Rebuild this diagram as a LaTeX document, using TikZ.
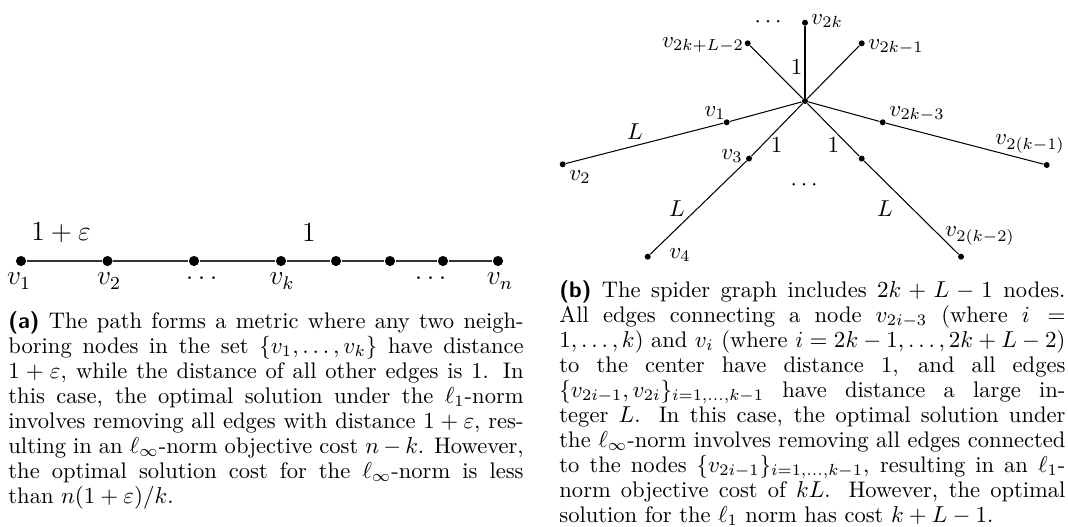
\documentclass[tikz,border=0pt]{standalone}
\usepackage{amsmath,amssymb}
\begin{document}
\begin{tikzpicture}[x=0.4348pt,y=-0.4348pt,
  dotA/.style={circle,fill,inner sep=0pt,minimum size=4.4pt},
  dotB/.style={circle,fill,inner sep=0pt,minimum size=2.6pt},
  edgeA/.style={line width=0.8pt,black!80},
  edgeB/.style={line width=0.45pt},
  labA/.style={font=\fontsize{12}{14}\selectfont,inner sep=0pt},
  labB/.style={font=\fontsize{10}{12}\selectfont,inner sep=0pt},
  capt/.style={font=\fontsize{9.8}{10.87}\selectfont,inner sep=0pt,anchor=base west,align=justify}]
\useasboundingbox (0,0) rectangle (1068,526);
% ---------- (a) path ----------
\node[dotA] (p1) at (21,261) {};
\node[dotA] (p2) at (107.5,261) {};
\node[dotA] (p3) at (194,261) {};
\node[dotA] (p4) at (281,261) {};
\node[dotA] (p5) at (336,261) {};
\node[dotA] (p6) at (390,261) {};
\node[dotA] (p7) at (443,261) {};
\node[dotA] (p8) at (498,261) {};
\draw[edgeA] (p1) -- (p2) -- (p3) -- (p4) -- (p5) -- (p6) -- (p7) -- (p8);
\node[labA] (lp1) at (19,281) {$v_1$};
\node[labA] (lp2) at (109,281) {$v_2$};
\node[labA] (lp3) at (204,278) {$\dots$};
\node[labA] (lp4) at (282,281) {$v_k$};
\node[labA] (lp7) at (433,278) {$\dots$};
\node[labA] (lp8) at (500,281) {$v_n$};
\node[labA] (eps) at (61,233) {$1+\varepsilon$};
\node[labA] (one) at (309,233) {$1$};
% ---------- (b) spider ----------
\node[dotB] (c) at (805,101) {};
\node[dotB] (s2k) at (805,22.7) {};
\node[dotB] (sL) at (747.7,43.3) {};
\node[dotB] (s2km1) at (861.7,43.3) {};
\node[dotB] (s1) at (726.7,122.3) {};
\node[dotB] (s2) at (562.7,164.3) {};
\node[dotB] (s3) at (749,158.6) {};
\node[dotB] (s4) at (647.7,256.7) {};
\node[dotB] (s2km3) at (882.7,122.3) {};
\node[dotB] (s2km1b) at (1046.7,165) {};
\node[dotB] (s2km5) at (861.7,158.6) {};
\node[dotB] (s2km2) at (961,256.7) {};
\draw[edgeB] (c) -- (s2k);
\draw[edgeB] (c) -- (sL);
\draw[edgeB] (c) -- (s2km1);
\draw[edgeB] (c) -- (s1) -- (s2);
\draw[edgeB] (c) -- (s3) -- (s4);
\draw[edgeB] (c) -- (s2km3) -- (s2km1b);
\draw[edgeB] (c) -- (s2km5) -- (s2km2);
\node[labB] (dtop) at (770,22.7) {$\cdots$};
\node[labB] (l2k) at (827,21) {$v_{2k}$};
\node[labB] (lL) at (703,45) {$v_{2k+L-2}$};
\node[labB] (l2km1) at (896,47) {$v_{2k-1}$};
\node[labB] (one1) at (796.7,66.7) {$1$};
\node[labB] (lv1) at (715,113) {$v_1$};
\node[labB] (L1) at (635,132) {$L$};
\node[labB] (lv2) at (580,177) {$v_2$};
\node[labB] (lv3) at (732,156) {$v_3$};
\node[labB] (one2) at (776.6,145.5) {$1$};
\node[labB] (one3) at (833.4,145.5) {$1$};
\node[labB] (dmid) at (806,185) {$\cdots$};
\node[labB] (L2) at (677,208.3) {$L$};
\node[labB] (lv4) at (680,255) {$v_4$};
\node[labB] (l2km3) at (917,114) {$v_{2k-3}$};
\node[labB] (l2km1b) at (1030,144) {$v_{2(k-1)}$};
\node[labB] (L3) at (885,208.3) {$L$};
\node[labB] (l2km2) at (980,236) {$v_{2(k-2)}$};
% ---------- captions ----------
\node[capt,text width=224pt] (capa) at (8,328) {\emergencystretch=3em\hyphenpenalty=10000
{\sffamily\bfseries (a)} The path forms a metric where any two neigh-\linebreak
boring nodes in the set $\{v_1,\ldots,v_k\}$ have distance\linebreak
$1+\varepsilon$, while the distance of all other edges is 1. In\linebreak
this case, the optimal solution under the $\ell_1$-norm\linebreak
involves removing all edges with distance $1+\varepsilon$, res-\linebreak
ulting in an $\ell_\infty$-norm objective cost $n-k$. However,\linebreak
the optimal solution cost for the $\ell_\infty$-norm is less\linebreak
than $n(1+\varepsilon)/k$.};
\node[capt,text width=220pt] (capb) at (559,297) {\emergencystretch=3em\hyphenpenalty=10000
{\sffamily\bfseries (b)} The spider graph includes $2k+L-1$ nodes.\linebreak
All edges connecting a node $v_{2i-3}$ (where $i=$\linebreak
$1,\ldots,k$) and $v_i$ (where $i=2k-1,\ldots,2k+L-2$)\linebreak
to the center have distance 1, and all edges\linebreak
$\{v_{2i-1},v_{2i}\}_{i=1,\ldots,k-1}$ have distance a large in-\linebreak
teger $L$. In this case, the optimal solution under\linebreak
the $\ell_\infty$-norm involves removing all edges connected\linebreak
to the nodes $\{v_{2i-1}\}_{i=1,\ldots,k-1}$, resulting in an $\ell_1$-\linebreak
norm objective cost of $kL$. However, the optimal\linebreak
solution for the $\ell_1$ norm has cost $k+L-1$.};
\end{tikzpicture}
\end{document}
